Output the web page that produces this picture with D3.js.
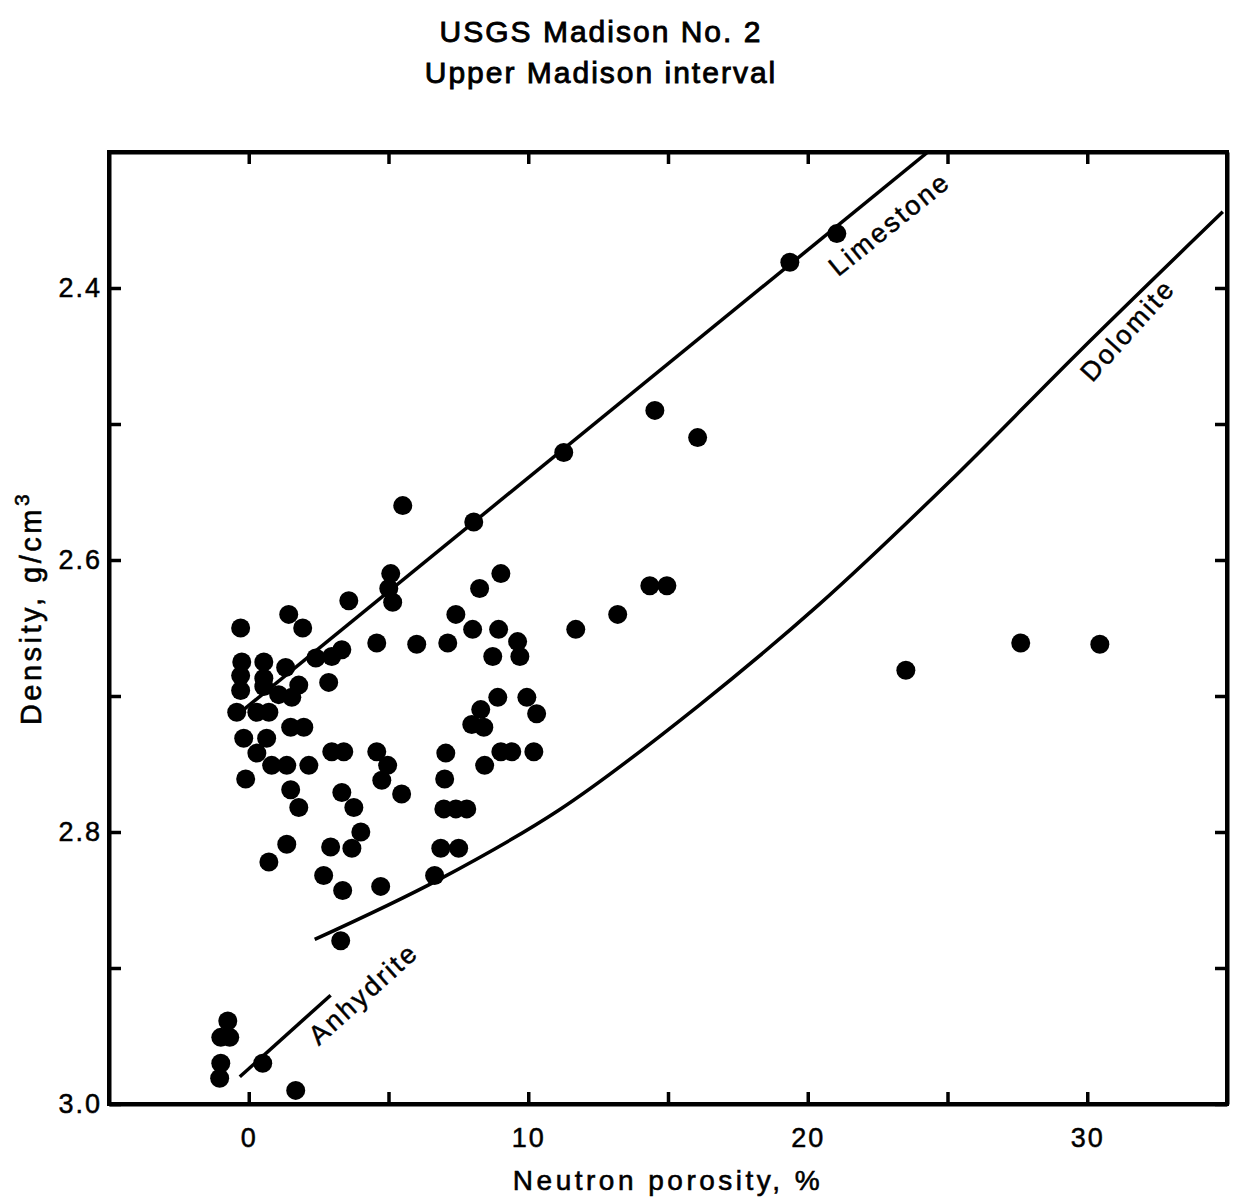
<!DOCTYPE html>
<html>
<head>
<meta charset="utf-8">
<script src="https://cdn.jsdelivr.net/npm/d3@7"></script>
<style>
  html, body { margin: 0; padding: 0; background: #fff; }
  svg { display: block; }
  text { font-family: "Liberation Sans", Arial, Helvetica, sans-serif; fill: #000; }
</style>
</head>
<body>
<script>
// ---------------- data ----------------
const titleLines = ["USGS Madison No. 2", "Upper Madison interval"];
const xLabel = "Neutron porosity, %";
const yLabelMain = "Density, g/cm";
const yLabelSup = "3";

const xTicks = [0, 5, 10, 15, 20, 25, 30];
const xTickLabels = [0, 10, 20, 30];
const yTicks = [2.4, 2.5, 2.6, 2.7, 2.8, 2.9, 3.0];
const yTickLabels = [2.4, 2.6, 2.8, 3.0];

// measured samples: neutron porosity (%) and bulk density (g/cm3)
const porosity = [
  21.04, 19.36, 11.27, 8.05, 5.51, 14.53, 16.06, 5.08, 5.01, 5.15,
  9.02, 8.26, 7.41, 8.01, 8.94, 9.62, 8.73, 9.70, 4.58, 6.01,
  7.12, 8.91, 9.95, 8.30, 10.30, 7.98, 8.41, 4.58, 4.97, 4.76,
  5.47, 7.05, 8.44, 9.02, 9.41, 10.20, 7.01, 6.98, 7.41, 7.80,
  6.87, 7.51, 6.65, 4.72, 3.58, 1.43, 1.93, -0.29, 3.33, 2.40,
  2.97, -0.25, 0.54, 1.32, -0.29, 0.54, 1.79, 2.86, -0.29, 0.54,
  1.07, 1.54, -0.43, 0.29, 0.72, 1.50, 1.97, -0.18, 0.64, 0.29,
  2.97, 3.40, 0.82, 1.36, 2.15, -0.11, 1.50, 1.79, 3.33, 3.76,
  4.01, 1.36, 2.93, 3.69, 0.72, 2.68, 3.36, 3.29, -0.75, -1.00,
  -0.68, -1.00, -1.04, 0.50, 1.68, 11.70, 13.20, 14.35, 14.96, 23.51,
  27.62, 30.45
];
const density = [
  2.360, 2.381, 2.521, 2.572, 2.560, 2.490, 2.510, 2.610, 2.621, 2.631,
  2.610, 2.621, 2.640, 2.651, 2.651, 2.660, 2.671, 2.671, 2.661, 2.662,
  2.661, 2.701, 2.701, 2.710, 2.713, 2.721, 2.723, 2.741, 2.751, 2.762,
  2.772, 2.742, 2.751, 2.741, 2.741, 2.741, 2.761, 2.783, 2.783, 2.783,
  2.812, 2.812, 2.832, 2.840, 2.630, 2.640, 2.650, 2.650, 2.666, 2.672,
  2.671, 2.675, 2.675, 2.679, 2.685, 2.687, 2.692, 2.690, 2.696, 2.693,
  2.699, 2.701, 2.712, 2.712, 2.712, 2.723, 2.723, 2.731, 2.731, 2.742,
  2.741, 2.741, 2.751, 2.751, 2.751, 2.761, 2.769, 2.782, 2.771, 2.782,
  2.800, 2.809, 2.811, 2.812, 2.822, 2.832, 2.843, 2.880, 2.939, 2.951,
  2.951, 2.970, 2.981, 2.970, 2.990, 2.651, 2.640, 2.619, 2.619, 2.681,
  2.661, 2.662
];

// mineral reference lines
const limestonePor = [-0.3, 24.3];
const limestoneDen = [2.712, 2.300];
const anhydritePor = [-0.32, 2.93];
const anhydriteDen = [2.980, 2.920];
const dolomitePor = [2.36, 6.80, 11.09, 16.10, 20.39, 25.04, 29.70, 34.85];
const dolomiteDen = [2.879, 2.835, 2.784, 2.707, 2.633, 2.543, 2.447, 2.344];

// ---------------- layout ----------------
const W = 1234, H = 1199;
const plot = { left: 109, right: 1227, top: 152, bottom: 1104 };

const x = d3.scaleLinear().domain([-5, 35]).range([plot.left, plot.right]);
const y = d3.scaleLinear().domain([2.3, 3.0]).range([plot.top, plot.bottom]);

const svg = d3.select("body").append("svg").attr("width", W).attr("height", H);

// title
svg.selectAll("text.title").data(titleLines).enter().append("text")
  .attr("class", "title")
  .attr("x", 601).attr("y", (d, i) => 42 + i * 41)
  .attr("text-anchor", "middle")
  .style("font-size", "30px").style("letter-spacing", "2px")
  .attr("stroke", "#000").attr("stroke-width", 0.9)
  .text(d => d);

// axes
const tickLen = 12;
const fmtX = d => xTickLabels.includes(d) ? d3.format("d")(d) : "";
const fmtY = d => yTickLabels.includes(d) ? d3.format(".1f")(d) : "";

function styleAxis(g) {
  g.select(".domain").attr("stroke", "#000").attr("stroke-width", 4);
  g.selectAll(".tick line").attr("stroke", "#000").attr("stroke-width", 3.5);
  g.selectAll(".tick text")
    .style("font-family", "'Liberation Sans', Arial, sans-serif")
    .style("font-size", "27px").style("letter-spacing", "2px")
    .attr("fill", "#000").attr("stroke", "#000").attr("stroke-width", 0.5);
}

svg.append("g").attr("transform", `translate(0,${plot.bottom})`)
  .call(d3.axisBottom(x).tickValues(xTicks).tickSizeInner(-tickLen).tickSizeOuter(0)
    .tickPadding(24).tickFormat(fmtX))
  .call(styleAxis);
svg.append("g").attr("transform", `translate(0,${plot.top})`)
  .call(d3.axisTop(x).tickValues(xTicks).tickSizeInner(-tickLen).tickSizeOuter(0).tickFormat(""))
  .call(styleAxis);
svg.append("g").attr("transform", `translate(${plot.left},0)`)
  .call(d3.axisLeft(y).tickValues(yTicks).tickSizeInner(-tickLen).tickSizeOuter(0)
    .tickPadding(7).tickFormat(fmtY))
  .call(styleAxis);
svg.append("g").attr("transform", `translate(${plot.right},0)`)
  .call(d3.axisRight(y).tickValues(yTicks).tickSizeInner(-tickLen).tickSizeOuter(0).tickFormat(""))
  .call(styleAxis);

// frame
svg.append("rect")
  .attr("x", plot.left).attr("y", plot.top)
  .attr("width", plot.right - plot.left).attr("height", plot.bottom - plot.top)
  .attr("fill", "none").attr("stroke", "#000").attr("stroke-width", 4);

// axis titles
svg.append("text")
  .attr("x", (plot.left + plot.right) / 2).attr("y", 1190)
  .attr("text-anchor", "middle")
  .style("font-size", "28px").style("letter-spacing", "3.5px")
  .attr("stroke", "#000").attr("stroke-width", 0.6)
  .text(xLabel);

const yl = svg.append("text")
  .attr("transform", `translate(41,${(plot.top + plot.bottom) / 2 - 20}) rotate(-90)`)
  .attr("text-anchor", "middle")
  .style("font-size", "29px").style("letter-spacing", "3.5px")
  .attr("stroke", "#000").attr("stroke-width", 0.6);
yl.append("tspan").text(yLabelMain);
yl.append("tspan").attr("dy", -12).style("font-size", "21px").text(yLabelSup);

// clip
svg.append("clipPath").attr("id", "clip").append("rect")
  .attr("x", plot.left).attr("y", plot.top)
  .attr("width", plot.right - plot.left).attr("height", plot.bottom - plot.top);

const plotG = svg.append("g").attr("clip-path", "url(#clip)");

const lineStraight = d3.line().x(d => x(d[0])).y(d => y(d[1]));
const lineCurve = d3.line().x(d => x(d[0])).y(d => y(d[1])).curve(d3.curveMonotoneX);

plotG.append("path").datum(d3.zip(limestonePor, limestoneDen))
  .attr("d", lineStraight).attr("fill", "none").attr("stroke", "#000").attr("stroke-width", 3.5);
plotG.append("path").datum(d3.zip(anhydritePor, anhydriteDen))
  .attr("d", lineStraight).attr("fill", "none").attr("stroke", "#000").attr("stroke-width", 3.5);
plotG.append("path").datum(d3.zip(dolomitePor, dolomiteDen))
  .attr("d", lineCurve).attr("fill", "none").attr("stroke", "#000").attr("stroke-width", 3.5);

// points
plotG.selectAll("circle.pt").data(d3.zip(porosity, density)).enter().append("circle")
  .attr("class", "pt")
  .attr("cx", d => x(d[0])).attr("cy", d => y(d[1]))
  .attr("r", 9.5).attr("fill", "#000");

// line labels
function lineLabel(txt, px, py, ang) {
  svg.append("text")
    .attr("transform", `translate(${x(px)},${y(py)}) rotate(${ang})`)
    .attr("text-anchor", "middle").attr("dominant-baseline", "middle")
    .style("font-size", "27px").style("letter-spacing", "2.5px")
    .attr("stroke", "#000").attr("stroke-width", 0.5)
    .text(txt);
}
lineLabel("Limestone", 22.97, 2.354, -39);
lineLabel("Dolomite", 31.50, 2.432, -48);
lineLabel("Anhydrite", 4.15, 2.920, -42);
</script>
</body>
</html>
